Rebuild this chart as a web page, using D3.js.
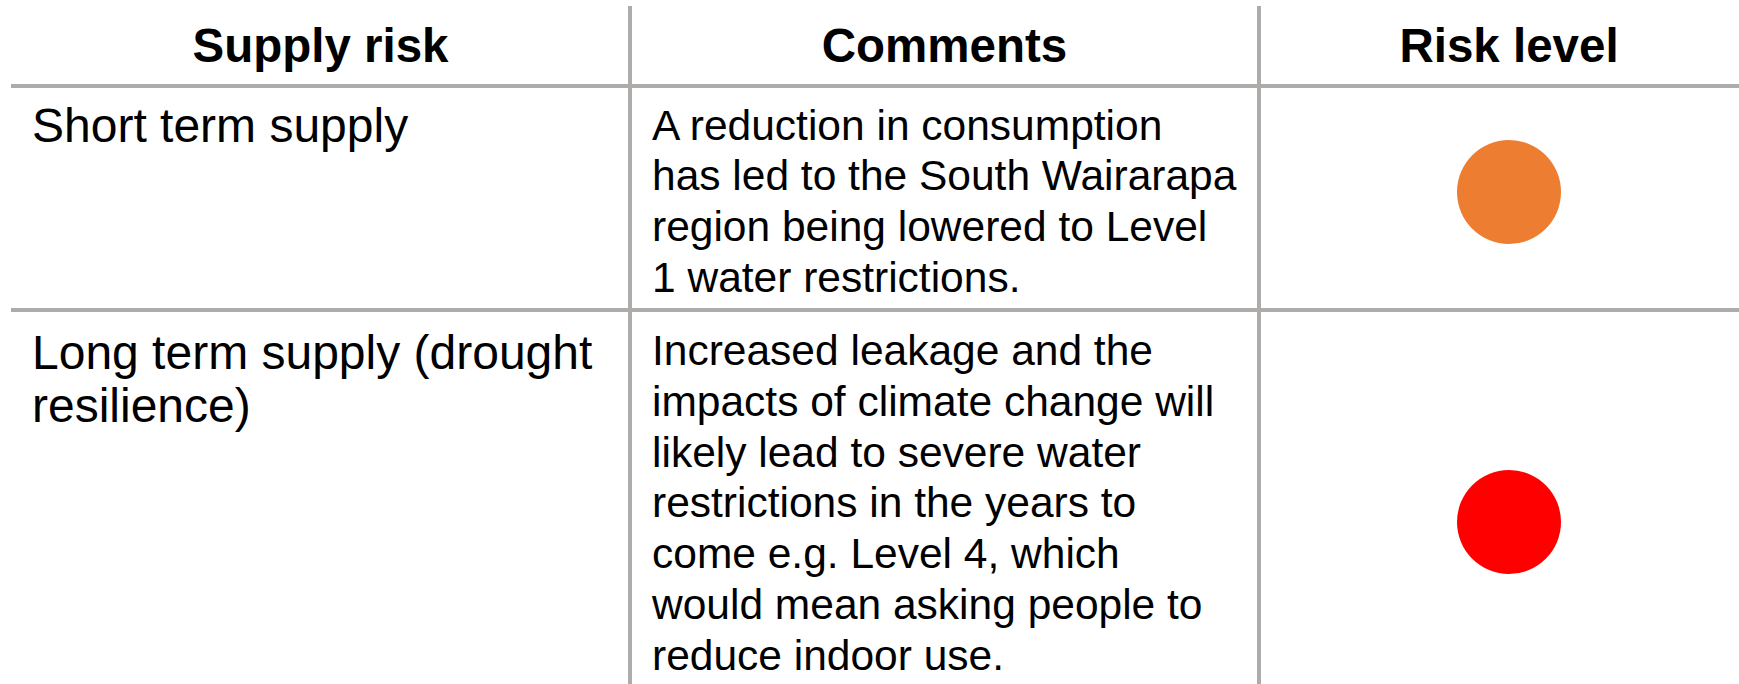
<!DOCTYPE html>
<html>
<head>
<meta charset="utf-8">
<script src="https://cdn.jsdelivr.net/npm/d3@7"></script>
<style>
  html, body { margin: 0; padding: 0; background: #ffffff; }
  svg { display: block; }
  text { font-family: "Liberation Sans", Arial, Helvetica, sans-serif; fill: #000; }
</style>
</head>
<body>
<div id="chart"></div>
<script>
// ---- data ----
const headers = ["Supply risk", "Comments", "Risk level"];
const supplyRisks = [
  ["Short term supply"],
  ["Long term supply (drought", "resilience)"]
];
const comments = [
  ["A reduction in consumption", "has led to the South Wairarapa", "region being lowered to Level", "1 water restrictions."],
  ["Increased leakage and the", "impacts of climate change will", "likely lead to severe water", "restrictions in the years to", "come e.g. Level 4, which", "would mean asking people to", "reduce indoor use."]
];
const riskLevels = ["Medium", "High"];
const levelNames = ["Medium", "High"];
const levelColors = ["#ED7D31", "#FF0000"];

// ---- layout ----
const W = 1739, H = 684;
const colEdges = [11, 630, 1259, 1759];
const rowEdges = [6, 86, 310, 738];
const gridColor = "#AEABAB";

const svg = d3.select("#chart").append("svg").attr("width", W).attr("height", H);

const colX = d3.scaleOrdinal().domain(headers).range(colEdges.slice(0, 3));
const colEnd = d3.scaleOrdinal().domain(headers).range(colEdges.slice(1));
const color = d3.scaleOrdinal().domain(levelNames).range(levelColors);

// grid lines
const g = svg.append("g");
g.selectAll("line.h").data([rowEdges[1], rowEdges[2]]).join("line")
  .attr("class", "h")
  .attr("x1", colEdges[0]).attr("x2", W)
  .attr("y1", d => d).attr("y2", d => d)
  .attr("stroke", gridColor).attr("stroke-width", 4);
g.selectAll("line.v").data([colEdges[1], colEdges[2]]).join("line")
  .attr("class", "v")
  .attr("x1", d => d).attr("x2", d => d)
  .attr("y1", rowEdges[0]).attr("y2", H)
  .attr("stroke", gridColor).attr("stroke-width", 4);

// headers
svg.selectAll("text.hdr").data(headers).join("text")
  .attr("class", "hdr")
  .attr("x", d => (colX(d) + colEnd(d)) / 2)
  .attr("y", 62)
  .attr("text-anchor", "middle")
  .attr("font-weight", "bold")
  .attr("font-size", 47.5)
  .text(d => d);

// supply risk column
const riskBaselines = [142, 369];
supplyRisks.forEach((lines, i) => {
  svg.append("text")
    .attr("x", colX(headers[0]) + 21)
    .attr("y", riskBaselines[i])
    .attr("font-size", 48)
    .selectAll("tspan").data(lines).join("tspan")
    .attr("x", colX(headers[0]) + 21)
    .attr("dy", (d, j) => j === 0 ? 0 : 53)
    .text(d => d);
});

// comments column
const commentBaselines = [139.5, 365];
comments.forEach((lines, i) => {
  svg.append("text")
    .attr("x", colX(headers[1]) + 22)
    .attr("y", commentBaselines[i])
    .attr("font-size", 42.5)
    .selectAll("tspan").data(lines).join("tspan")
    .attr("x", colX(headers[1]) + 22)
    .attr("dy", (d, j) => j === 0 ? 0 : 50.8)
    .text(d => d);
});

// risk level circles
const circleCY = [192, 522];
svg.selectAll("circle.risk").data(riskLevels).join("circle")
  .attr("class", "risk")
  .attr("cx", (colEdges[2] + colEdges[3]) / 2)
  .attr("cy", (d, i) => circleCY[i])
  .attr("r", 52)
  .attr("fill", d => color(d));
</script>
</body>
</html>
